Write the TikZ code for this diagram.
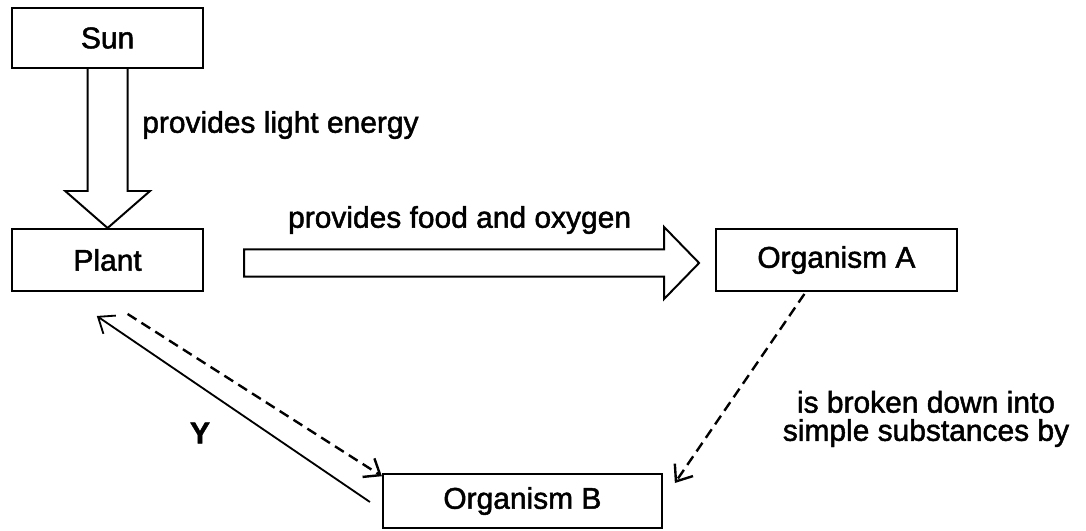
\documentclass[tikz,border=0pt]{standalone}
\usepackage{fontspec}
\setmainfont{Liberation Sans}[FakeBold=1.6]
\usetikzlibrary{arrows.meta,calc}
\tikzset{
  box/.style={draw,line width=1.4pt},
  fat/.style={draw,line width=1.4pt,line join=miter},
  link/.style={line width=1.3pt,-{Straight Barb[length=3.5mm,width=5.5mm]}},
  dlink/.style={link,line width=1.7pt,dash pattern=on 2.6mm off 1.5mm},
}
\begin{document}
\begin{tikzpicture}[every node/.style={font=\fontsize{21.3pt}{20pt}\selectfont,inner sep=0pt}]
  \useasboundingbox (0,0) rectangle (27.15,13.275);
  % boxes
  \node[box,minimum width=4.775cm,minimum height=1.5cm] (sun) at (2.69,12.325) {Sun};
  \node[box,minimum width=4.775cm,minimum height=1.55cm] (plant) at (2.69,6.775) {Plant};
  \node[box,minimum width=6.025cm,minimum height=1.55cm] (orgA) at (20.91,6.775) {Organism A};
  \node[box,minimum width=6.975cm,minimum height=1.35cm] (orgB) at (13.06,0.75) {Organism B};
  % hollow arrows
  \draw[fat] ($(sun.south)+(-0.5,0)$) -- ($(plant.north)+(-0.5,0.925)$) -- ++(-0.56,0) -- (plant.north)
    -- ++(1.06,0.925) -- ++(-0.56,0) -- ($(sun.south)+(0.5,0)$);
  \draw[fat] ($(plant.east)+(1,0.265)$) -- ++(10.5,0) -- ++(0,0.56) -- ++(0.875,-0.9)
    -- ++(-0.875,-0.9) -- ++(0,0.56) -- ++(-10.5,0) -- cycle;
  \node[anchor=west] (light) at (3.55,10.15) {provides light energy};
  \node (food) at (11.49,7.775) {provides food and oxygen};
  % thin links
  \draw[link] ($(orgB.west)+(-0.3,-0.025)$) -- ($(plant.south)+(-0.27,-0.6)$);
  \draw[dlink] ($(plant.south)+(0.5,-0.55)$) -- ($(orgB.north west)+(0,-0.08)$);
  \draw[dlink] ($(orgA.south)+(-0.8,-0.05)$) -- ($(orgB.north east)+(0.3,-0.25)$);
  \node[font=\fontsize{21.3pt}{20pt}\selectfont\bfseries] (y) at (5.0,2.45) {Y};
  \node[align=center] (broken) at (23.15,2.8) {is broken down into\\simple substances by};
\end{tikzpicture}
\end{document}
